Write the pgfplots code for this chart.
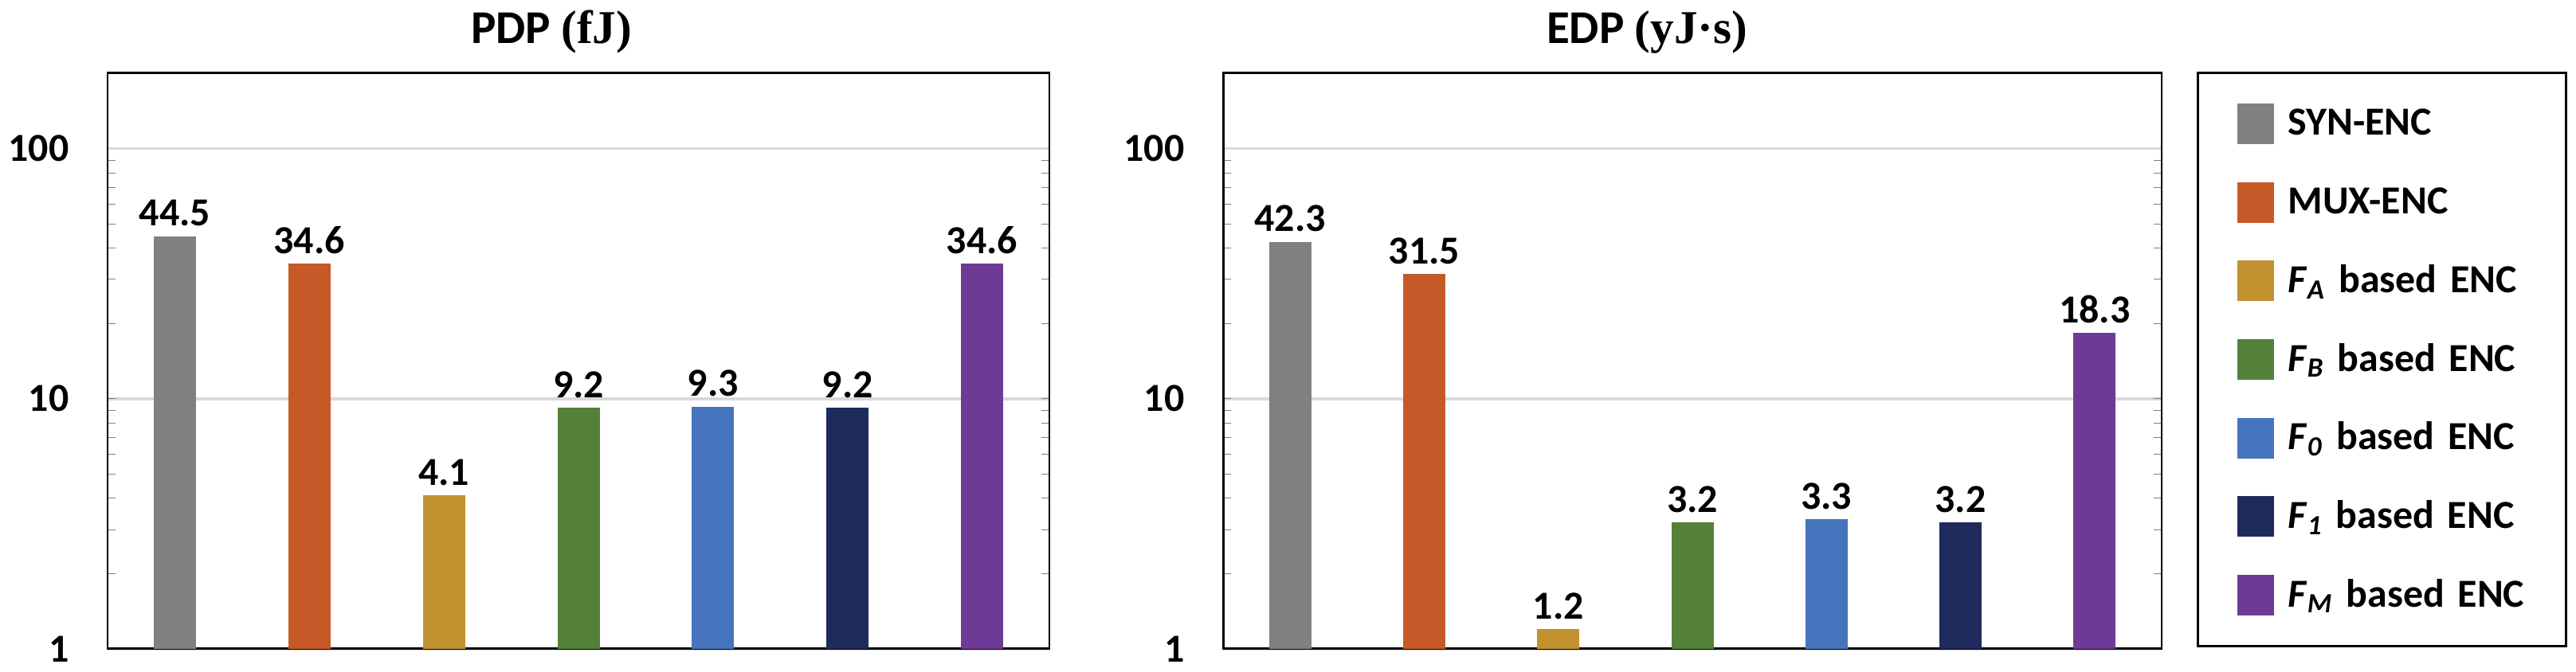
\documentclass[border=0pt]{standalone}
\usepackage{fontspec}
\setmainfont{Carlito}
\newfontfamily\tnr{Liberation Serif}
\usepackage{pgfplots}
\pgfplotsset{compat=1.18}

\definecolor{cSyn}{HTML}{808080}
\definecolor{cMux}{HTML}{C55A28}
\definecolor{cFA}{HTML}{C1922F}
\definecolor{cFB}{HTML}{538139}
\definecolor{cF0}{HTML}{4674BD}
\definecolor{cF1}{HTML}{1F2A5C}
\definecolor{cFM}{HTML}{6E3A95}

\newcommand{\lbl}{\bfseries\fontsize{14.2pt}{17pt}\selectfont}
\newcommand{\ttl}{\bfseries\fontsize{16.8pt}{20pt}\selectfont}

\begin{document}
\begin{tikzpicture}
\path[use as bounding box] (0mm,0mm) rectangle (323.3mm,84.4mm);

% PDP panel
\begin{axis}[
    width=118.2mm, height=72.3mm, scale only axis,
    at={(13.5mm,2.9mm)}, anchor=south west,
    ymode=log, ymin=1, ymax=200,
    xmin=-0.5, xmax=6.5,
    xtick=\empty,
    ytick={1,10,100}, yticklabels={1,10,100},
    major tick length=0pt,
    yticklabel style={font=\lbl, inner sep=0pt, xshift=-4.8mm},
    ymajorgrids,
    grid style={line width=1.1pt, color=black!15},
    axis line style={line width=0.85pt, black},
    ybar, bar width=5.3mm,
    nodes near coords,
    point meta=explicit symbolic,
    every node near coord/.append style={font=\lbl, inner sep=0pt, yshift=1.2mm},
]
\addplot[fill=cSyn, draw=none, bar shift=0pt] coordinates {(0,44.5) [44.5]};
\addplot[fill=cMux, draw=none, bar shift=0pt] coordinates {(1,34.6) [34.6]};
\addplot[fill=cFA,  draw=none, bar shift=0pt] coordinates {(2,4.1) [4.1]};
\addplot[fill=cFB,  draw=none, bar shift=0pt] coordinates {(3,9.2) [9.2]};
\addplot[fill=cF0,  draw=none, bar shift=0pt] coordinates {(4,9.3) [9.3]};
\addplot[fill=cF1,  draw=none, bar shift=0pt] coordinates {(5,9.2) [9.2]};
\addplot[fill=cFM,  draw=none, bar shift=0pt] coordinates {(6,34.6) [34.6]};
\end{axis}

% EDP panel with the legend
\begin{axis}[
    width=117.8mm, height=72.3mm, scale only axis,
    at={(153.5mm,2.9mm)}, anchor=south west,
    ymode=log, ymin=1, ymax=200,
    xmin=-0.5, xmax=6.5,
    xtick=\empty,
    ytick={1,10,100}, yticklabels={1,10,100},
    major tick length=0pt,
    yticklabel style={font=\lbl, inner sep=0pt, xshift=-4.8mm},
    ymajorgrids,
    grid style={line width=1.1pt, color=black!15},
    axis line style={line width=0.85pt, black},
    ybar, bar width=5.3mm,
    nodes near coords,
    point meta=explicit symbolic,
    every node near coord/.append style={font=\lbl, inner sep=0pt, yshift=1.2mm},
    legend cell align=left,
    legend image code/.code={\fill[#1] (0mm,-2.55mm) rectangle (4.6mm,2.55mm);},
    legend style={at={(1.0374,1.0028)}, anchor=north west,
      draw=black, line width=0.85pt, font=\lbl,
      inner xsep=4.9mm, inner ysep=1.5mm, row sep=0pt,
      column sep=1.8mm,
      nodes={inner sep=0pt, minimum height=9.86mm, text width=30mm}},
]
\addplot[fill=cSyn, draw=none, bar shift=0pt] coordinates {(0,42.3) [42.3]};
\addlegendentry{SYN-ENC}
\addplot[fill=cMux, draw=none, bar shift=0pt] coordinates {(1,31.5) [31.5]};
\addlegendentry{MUX-ENC}
\addplot[fill=cFA,  draw=none, bar shift=0pt] coordinates {(2,1.2) [1.2]};
\addlegendentry{\textit{F}\textsubscript{\textit{A}} based ENC}
\addplot[fill=cFB,  draw=none, bar shift=0pt] coordinates {(3,3.2) [3.2]};
\addlegendentry{\textit{F}\textsubscript{\textit{B}} based ENC}
\addplot[fill=cF0,  draw=none, bar shift=0pt] coordinates {(4,3.3) [3.3]};
\addlegendentry{\textit{F}\textsubscript{\textit{0}} based ENC}
\addplot[fill=cF1,  draw=none, bar shift=0pt] coordinates {(5,3.2) [3.2]};
\addlegendentry{\textit{F}\textsubscript{\textit{1}} based ENC}
\addplot[fill=cFM,  draw=none, bar shift=0pt] coordinates {(6,18.3) [18.3]};
\addlegendentry{\textit{F}\textsubscript{\textit{M}} based ENC}
\end{axis}

\node[font=\ttl] at (69.2mm,80.4mm) {PDP {\tnr(fJ)}};
\node[font=\ttl] at (206.7mm,80.4mm) {EDP {\tnr(yJ·s)}};
\end{tikzpicture}
\end{document}
